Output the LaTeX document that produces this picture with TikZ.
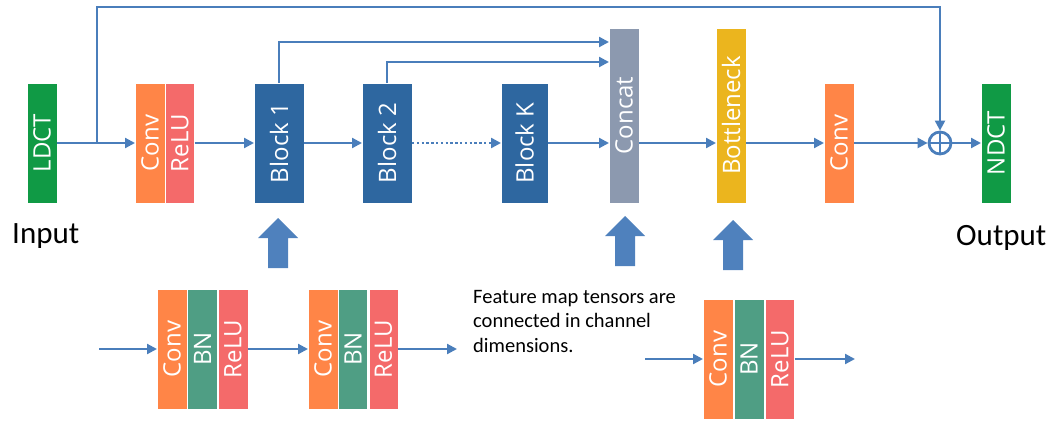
\documentclass[tikz,border=0pt]{standalone}
\usepackage{fontspec}
\setmainfont{Carlito}
\newfontfamily\boxfont{Open Sans}
\usetikzlibrary{arrows.meta,calc}
\definecolor{cgreen}{HTML}{109A45}
\definecolor{corange}{HTML}{FF8547}
\definecolor{cred}{HTML}{F46A6A}
\definecolor{cblue}{HTML}{2E67A0}
\definecolor{cgray}{HTML}{8C99AF}
\definecolor{cyellow}{HTML}{EBB51E}
\definecolor{cteal}{HTML}{4F9E84}
\definecolor{lblue}{HTML}{4A7EBB}
\definecolor{bigblue}{HTML}{4F81BD}
\begin{document}
\begin{tikzpicture}[x=1pt,y=-1pt,
  box/.style={draw=white, line width=0.6pt, inner sep=0pt, outer sep=0pt},
  lbl/.style={rotate=90, text=white, inner sep=0pt, font=\boxfont\fontsize{24}{24}\selectfont},
  arr/.style={draw=lblue, line width=2.2pt, -{Triangle[length=10pt,width=10pt]}},
  dotline/.style={draw=lblue, line width=2.4pt, dash pattern=on 2.4pt off 2.4pt, -{Triangle[length=10pt,width=10pt]}},
  captext/.style={inner sep=0pt, font=\fontsize{31}{31}\selectfont, anchor=base west},
  pics/uparrow/.style={code={\fill[bigblue] (-10,50) -- (-10,20) -- (-20,20) -- (0,0) -- (20,20) -- (10,20) -- (10,50) -- cycle;}}
]
\useasboundingbox (0,0) rectangle (1056,420);

% main row
\node[box, fill=cgreen, minimum width=30pt, minimum height=120pt, label={[lbl]center:LDCT}] (ldct) at (42,143) {};
\node[box, fill=corange, minimum width=30pt, minimum height=120pt, label={[lbl]center:Conv}] (conv1) at (150,143) {};
\node[box, fill=cred, minimum width=29pt, minimum height=120pt, label={[lbl]center:ReLU}] (relu1) at (180,143) {};
\node[box, fill=cblue, minimum width=50pt, minimum height=120pt, label={[lbl]center:Block 1}] (b1) at (279,143) {};
\node[box, fill=cblue, minimum width=50pt, minimum height=120pt, label={[lbl]center:Block 2}] (b2) at (387,143) {};
\node[box, fill=cblue, minimum width=47pt, minimum height=120pt, label={[lbl]center:Block K}] (bk) at (524.5,143) {};
\node[box, fill=cgray, minimum width=30pt, minimum height=175pt, label={[lbl]center:Concat}] (concat) at (624,115.5) {};
\node[box, fill=cyellow, minimum width=30pt, minimum height=175pt, label={[lbl]center:Bottleneck}] (bott) at (731,115.5) {};
\node[box, fill=corange, minimum width=30pt, minimum height=120pt, label={[lbl]center:Conv}] (conv2) at (839,143) {};
\node[circle, draw=lblue, line width=2.8pt, minimum size=22pt, inner sep=0pt] (plus) at (940,143) {};
\draw[lblue, line width=2.8pt] (plus.north) -- (plus.south) (plus.west) -- (plus.east);
\node[box, fill=cgreen, minimum width=30pt, minimum height=120pt, label={[lbl]center:NDCT}] (ndct) at (996,143) {};

\node[captext] (input) at (12,243) {Input};
\node[captext] (output) at (956,245) {Output};

% main connectors
\coordinate (sk) at (97,143);
\coordinate (ytop) at (0,7);
\coordinate (y42) at (0,42);
\coordinate (y62) at (0,62);
\draw[arr] (ldct.east) -- (conv1.west);
\draw[arr] (relu1.east) -- (b1.west);
\draw[arr] (b1.east) -- (b2.west);
\draw[dotline] (b2.east) -- (bk.west);
\draw[arr] (bk.east) -- (concat.west |- bk.east);
\draw[arr] (concat.east |- bk.east) -- (bott.west |- bk.east);
\draw[arr] (bott.east |- bk.east) -- (conv2.west);
\draw[arr] (conv2.east) -- (plus.west);
\draw[arr] (plus.east) -- (ndct.west);
\draw[arr] (sk) -- (sk |- ytop) -| (plus.north);
\draw[arr] (b1.north) |- (concat.west |- y42);
\draw[arr] (b2.north) |- (concat.west |- y62);

% big up arrows
\pic at (278,218) {uparrow};
\pic at (625,216) {uparrow};
\pic at (733,220) {uparrow};

% bottom group 1
\node[box, fill=corange, minimum width=30pt, minimum height=120pt, label={[lbl]center:Conv}] (g1c) at (172,349) {};
\node[box, fill=cteal, minimum width=30pt, minimum height=120pt, label={[lbl]center:BN}] (g1b) at (202.5,349) {};
\node[box, fill=cred, minimum width=30pt, minimum height=120pt, label={[lbl]center:ReLU}] (g1r) at (233,349) {};
% bottom group 2
\node[box, fill=corange, minimum width=30pt, minimum height=120pt, label={[lbl]center:Conv}] (g2c) at (323,349) {};
\node[box, fill=cteal, minimum width=29pt, minimum height=120pt, label={[lbl]center:BN}] (g2b) at (353,349) {};
\node[box, fill=cred, minimum width=29pt, minimum height=120pt, label={[lbl]center:ReLU}] (g2r) at (383.5,349) {};
% bottom group 3
\node[box, fill=corange, minimum width=30pt, minimum height=120pt, label={[lbl]center:Conv}] (g3c) at (718,359) {};
\node[box, fill=cteal, minimum width=30pt, minimum height=120pt, label={[lbl]center:BN}] (g3b) at (749,359) {};
\node[box, fill=cred, minimum width=29pt, minimum height=120pt, label={[lbl]center:ReLU}] (g3r) at (780,359) {};

\coordinate (g1in) at (99,349);
\coordinate (g2out) at (457,349);
\coordinate (g3in) at (645,359);
\coordinate (g3out) at (855,359);
\draw[arr] (g1in) -- (g1c.west);
\draw[arr] (g1r.east) -- (g2c.west);
\draw[arr] (g2r.east) -- (g2out);
\draw[arr] (g3in) -- (g3c.west);
\draw[arr] (g3r.east) -- (g3out);

\node[inner sep=0pt, anchor=north west, align=left, font=\fontsize{20.5}{24.5}\selectfont] (note) at (473,290) {Feature map tensors are\\connected in channel\\dimensions.};
\end{tikzpicture}
\end{document}
